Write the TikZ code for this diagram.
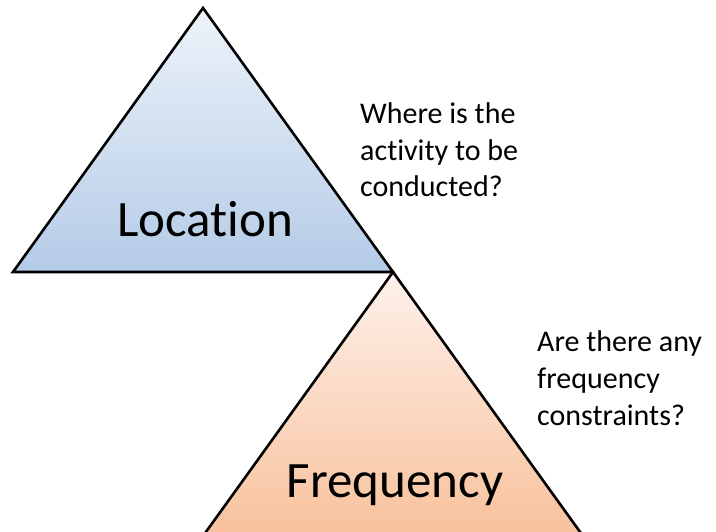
\documentclass[tikz,border=0pt]{standalone}
\usepackage{fontspec}
\setmainfont[Ligatures=NoCommon]{Carlito}
\definecolor{bluetop}{HTML}{EDF3FA}
\definecolor{bluebot}{HTML}{B4CBE7}
\definecolor{orgtop}{HTML}{FDF1EA}
\definecolor{orgbot}{HTML}{F8C19C}
\tikzset{
  tri/.style={draw=black, line width=2.6pt, line join=miter},
  bigword/.style={font=\fontsize{51}{61}\selectfont, anchor=base, inner sep=0pt},
  question/.style={font=\fontsize{30}{36.6}\selectfont, align=left, anchor=base west, inner sep=0pt},
}
\begin{document}
\begin{tikzpicture}[x=1pt,y=-1pt]
\useasboundingbox (0,0) rectangle (716,532);
\clip (0,0) rectangle (716,532);
\path[tri, shading=axis, top color=bluetop, bottom color=bluebot]
  (203,8) -- (393,272) -- (13,272) -- cycle;
\path[tri, shading=axis, top color=orgtop, bottom color=orgbot]
  (393,272) -- (583,536) -- (203,536) -- cycle;
\node[bigword] (loc) at (205,237) {Location};
\node[bigword] (freq) at (395,497) {Frequency};
\node[question] (q1) at (360,197) {Where is the\\activity to be\\conducted?};
\node[question] (q2) at (537,425) {Are there any\\frequency\\constraints?};
\end{tikzpicture}
\end{document}
